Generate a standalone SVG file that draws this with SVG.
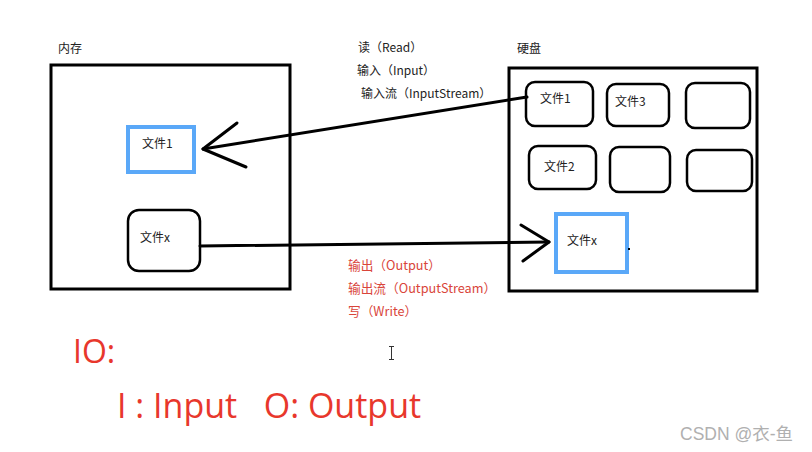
<svg xmlns="http://www.w3.org/2000/svg" width="812" height="452" viewBox="0 0 812 452">
<style>
.box{fill:none;stroke:#000;stroke-width:3}
.file{fill:#fff;stroke:#000;stroke-width:2.5}
.sel{fill:none;stroke:#5aa8f8;stroke-width:4}
.t{font-family:"Noto Sans CJK SC","Liberation Sans",sans-serif;font-size:12px;fill:#222}
.r{font-family:"Noto Sans CJK SC","Liberation Sans",sans-serif;font-size:12.7px;fill:#d9453a}
.big{font-family:"Open Sans","Liberation Sans",sans-serif;fill:#e8372c}
.ln{fill:none;stroke:#000;stroke-width:3;stroke-linecap:round;stroke-linejoin:round}
</style>
<rect width="812" height="452" fill="#fff"/>
<g id="memory">
<text class="t" x="58" y="53">内存</text>
<rect class="box" x="51" y="65" width="239" height="224"/>
</g>
<g id="mem-file1">
<rect class="file" x="128" y="127" width="66" height="45" rx="4"/>
<rect class="sel" x="128" y="127" width="66" height="45"/>
<text class="t" x="142" y="148">文件1</text>
</g>
<g id="mem-filex">
<rect class="file" x="128" y="210" width="72" height="61" rx="11"/>
<text class="t" x="140" y="242">文件x</text>
</g>
<g id="disk">
<text class="t" x="517" y="53">硬盘</text>
<rect class="box" x="509" y="68" width="248" height="223"/>
</g>
<g id="disk-file1">
<rect class="file" x="526" y="82" width="67" height="44" rx="9"/>
<text class="t" x="540" y="103">文件1</text>
</g>
<g id="disk-file3">
<rect class="file" x="607" y="84" width="62" height="42" rx="9"/>
<text class="t" x="615" y="106">文件3</text>
</g>
<g id="disk-empty1">
<rect class="file" x="686" y="83" width="64" height="45" rx="9"/>
</g>
<g id="disk-file2">
<rect class="file" x="529" y="146" width="67" height="43" rx="9"/>
<text class="t" x="544" y="171">文件2</text>
</g>
<g id="disk-empty2">
<rect class="file" x="610" y="147" width="60" height="45" rx="9"/>
</g>
<g id="disk-empty3">
<rect class="file" x="687" y="150" width="65" height="41" rx="9"/>
</g>
<g id="disk-filex">
<rect class="file" x="556" y="214" width="71" height="58" rx="3"/>
<rect class="sel" x="556" y="214" width="71" height="58"/>
<text class="t" x="567" y="245">文件x</text>
<rect x="628" y="248" width="2" height="2" fill="#000"/>
</g>
<g id="connectors">
<path class="ln" d="M527,97 L203,149"/>
<path class="ln" d="M237,123 L203,149 L246,167"/>
<path class="ln" d="M200,246 L549,242"/>
<path class="ln" d="M521,225 L549,242 L523,261"/>
</g>
<g id="labels">
<text class="t" x="358" y="52">读（Read）</text>
<text class="t" x="357" y="75">输入（Input）</text>
<text class="t" x="361" y="98">输入流（InputStream）</text>
<text class="r" x="348" y="270">输出（Output）</text>
<text class="r" x="348" y="293">输出流（OutputStream）</text>
<text class="r" x="348" y="316">写（Write）</text>
<text class="big" x="73" y="363" font-size="32">IO:</text>
<text class="big" x="117" y="418" font-size="34" xml:space="preserve">I : Input   O: Output</text>
</g>
<g id="cursor" stroke="#333" stroke-width="1" fill="none">
<path d="M389,346.5 H394 M391.5,346.5 V359.5 M389,359.5 H394"/>
</g>
<text x="680" y="440" font-family="'Liberation Sans','Noto Sans CJK SC',sans-serif" font-size="17.5" fill="#b0b0b0">CSDN @衣-鱼</text>
</svg>
